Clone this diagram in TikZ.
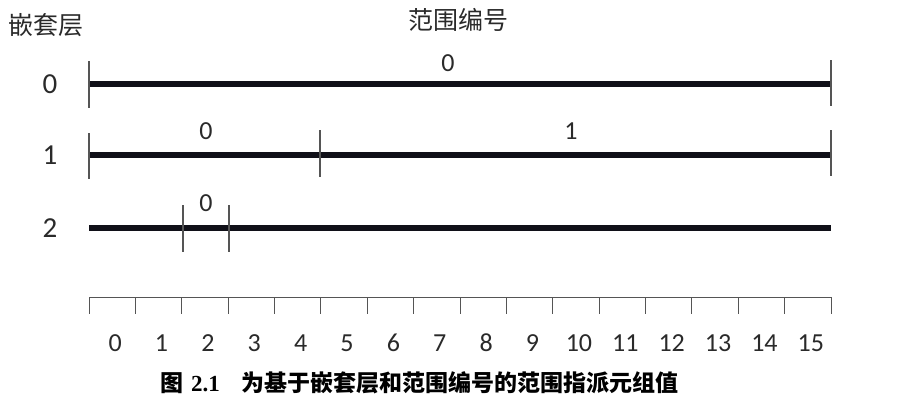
\documentclass[tikz,border=0pt]{standalone}
\usepackage{fontspec}
\setmainfont{Carlito}
\newfontfamily\cjk{Noto Sans CJK SC}
\newfontfamily\serifnum{Liberation Serif}
\definecolor{ink}{HTML}{2A2A2A}
\definecolor{bar}{HTML}{101018}
\definecolor{tickc}{HTML}{555555}
\begin{document}
\begin{tikzpicture}[x=1pt,y=-1pt,
  lbl/.style={inner sep=0pt,text=ink,font=\fontsize{29}{29}\selectfont},
  seglbl/.style={inner sep=0pt,text=ink,font=\fontsize{26}{26}\selectfont},
  axlbl/.style={inner sep=0pt,text=ink,font=\fontsize{26}{26}\selectfont},
  head/.style={inner sep=0pt,text=ink,font=\cjk\fontsize{25}{25}\selectfont},
  barline/.style={line width=5.5pt,color=bar},
  tickl/.style={line width=1.1pt,color=tickc},
  axline/.style={line width=1pt,color=tickc}]
\path[use as bounding box] (0,0) rectangle (904,400);
% headers
\node[head] (hlevel) at (46,25) {嵌套层};
\node[head] (hrange) at (458,20) {范围编号};
% level labels
\node[lbl] (l0) at (50,84) {0};
\node[lbl] (l1) at (50,155) {1};
\node[lbl] (l2) at (50,228) {2};
% row 0
\coordinate (r0a) at (89,84);
\coordinate (r0b) at (831,84);
\draw[barline] (r0a) -- (r0b);
\draw[tickl] (89,61) -- (89,108);
\draw[tickl] (831,60) -- (831,106);
\node[seglbl] (r0n0) at (448,63) {0};
% row 1
\coordinate (r1a) at (89,155);
\coordinate (r1b) at (831,155);
\draw[barline] (r1a) -- (r1b);
\draw[tickl] (89,133) -- (89,179);
\draw[tickl] (320,130) -- (320,177);
\draw[tickl] (831,130) -- (831,176);
\node[seglbl] (r1n0) at (206,131) {0};
\node[seglbl] (r1n1) at (571,131) {1};
% row 2
\coordinate (r2a) at (89,228);
\coordinate (r2b) at (831,228);
\draw[barline] (r2a) -- (r2b);
\draw[tickl] (183,205) -- (183,252);
\draw[tickl] (229,205) -- (229,252);
\node[seglbl] (r2n0) at (206,203) {0};
% axis
\coordinate (axa) at (89,297);
\coordinate (axb) at (831,297);
\draw[axline] (axa) -- (axb);
\foreach \i in {0,...,16} {
  \draw[tickl,line width=0.9pt] ({89+46.375*\i},297) -- ({89+46.375*\i},314);
}
\foreach \i in {0,...,15} {
  \node[axlbl] (ax\i) at ({89+46.375*(\i+0.5)+3},343) {\i};
}
% caption
\node[inner sep=0pt,anchor=west,font=\fontsize{23}{23}\selectfont] (cap) at (160,383)
  {{\cjk\bfseries 图}\hspace{8pt}{\serifnum\bfseries 2.1}\hspace{22pt}{\cjk\bfseries 为基于嵌套层和范围编号的范围指派元组值}};
\end{tikzpicture}
\end{document}
